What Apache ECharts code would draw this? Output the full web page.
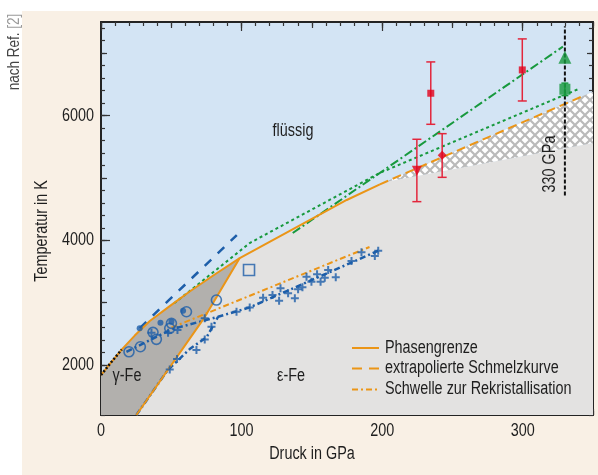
<!DOCTYPE html>
<html><head><meta charset="utf-8">
<script src="https://cdn.jsdelivr.net/npm/echarts@6/dist/echarts.min.js"></script>
<style>
html,body{margin:0;padding:0;background:#fff;}
#panel{position:absolute;left:22px;top:11px;width:576px;height:464px;background:#f9f0e5;}
#chart{position:absolute;left:0;top:0;width:598px;height:475px;}
</style></head><body>
<div id="panel"></div><div id="chart"></div>
<script>
const FONT = "'Liberation Sans', Arial, sans-serif";
const NARROW = 0.8;

// ---- data (pressure GPa, temperature K) ----
const meltGamma = [[0,1840],[6.2,2016],[14.7,2249],[24.0,2473],[34.7,2706],[48.9,2946],[63.1,3179],[80.9,3452],[98.7,3716]];
const meltEps = [[98.7,3716],[174.8,4647],[198.4,4898]];
const meltExtrap = [[198.4,4898],[341.9,6304]];
const gammaEpsBoundary = [[98.7,3716],[73.8,2770],[25.2,1200]];
const hatchUpper = [[202,4937],[341.9,6304],[350,6383]];
const hatchLower = [[350,5561],[202,4937]];
const blackDotted = [[0,1840],[6.2,2016],[14.7,2249]];
const recrystThreshold = [[50.1,2600],[191,3893]];
const blueDashed = [[27.6,2593],[96.6,4085]];
const blueDashDotUpper = [[18.1,2213],[50.1,2573],[83.3,2775],[105.8,2925],[198.4,3845]];
const blueDashDotLower = [[25.2,1200],[47.5,1920],[63.1,2257],[75.2,2449],[83.3,2775]];
const greenDotted = [[52,2990],[70.2,3315],[105.8,3957],[162.6,4647],[198.3,5080],[339.3,6422]];
const greenDashDot = [[136.4,4117],[328.6,7106]];
const line330 = [[330,4720],[330,7430]];
const bluePlus = [[35.9,2518],[47.7,2518],[54.4,2561],[73.8,2749],[54.1,2096],[48.9,1931],[67.9,2241],[73.8,2412],[78.6,2614],[96.4,2855],[105.8,2925],[115.3,3080],[122.0,3123],[126.7,3031],[127.7,3230],[133.1,3150],[137.9,3070],[140.2,3214],[143.3,3246],[146.2,3416],[149.7,3336],[153.7,3455],[156.2,3336],[159.2,3400],[161.6,3524],[167.0,3407],[178.2,3668],[185.3,3808],[194.8,3748],[197.2,3833]];
const blueCircles = [[19.9,2213],[28.0,2294],[39.4,2413],[37.0,2525],[50.1,2669],[48.9,2589],[60.8,2855],[82.1,3043]];
const blueDots = [[27.5,2589],[42.3,2678],[50.1,2695],[58.4,2871]];
const blueSquare = [[105.3,3524]];
const redSquares = [[234.6,6358],[299.7,6732]];
const redTriangle = [[224.7,5117]];
const redDiamond = [[242.7,5363]];
const redErrors = [[234.6,5860,6860],[299.7,6234,7229],[224.7,4620,5620],[242.7,5010,5710]];
const greenTriangle = [[330,6935]];
const greenSquare = [[330,6422]];
const greenErrors = [[330,6320,6520]];
const xLabels = [0,100,200,300];
const yLabels = [2000,4000,6000];
const legendNames = ['Phasengrenze','extrapolierte Schmelzkurve','Schwelle zur Rekristallisation'];

// ---- colours ----
const ORANGE='#eb9517', BLUE='#1d5ea9', GREEN='#17993d', RED='#e2001a', TXT='#1e1e1e';

const solidPoly = [[0,1200]].concat(meltGamma, meltEps.slice(1), [[202,4937],[350,5561],[350,1200]]);
const gammaPoly = [[0,1200]].concat(meltGamma, gammaEpsBoundary.slice(1));
const hatchPoly = hatchUpper.concat(hatchLower);

// hatch pattern
const pc = document.createElement('canvas'); pc.width = 10; pc.height = 10;
const cx = pc.getContext('2d');
cx.fillStyle = '#ffffff'; cx.fillRect(0,0,10,10);
cx.strokeStyle = '#bababa'; cx.lineWidth = 2.2;
cx.beginPath(); cx.moveTo(-2,-2); cx.lineTo(12,12); cx.moveTo(12,-2); cx.lineTo(-2,12); cx.stroke();

function range(a,b,s){const r=[];for(let v=a;v<=b+1e-9;v+=s)r.push(v);return r;}

function polygon(points, style, z){
  return {type:'custom', coordinateSystem:'cartesian2d', clip:true, silent:true, z:z,
    data:[points[0]],
    renderItem:function(params, api){
      return {type:'polygon', shape:{points: points.map(p=>api.coord(p))}, style: style};
    }};
}
function line(name, data, color, width, type, z){
  return {type:'line', name:name, data:data, symbol:'none', showSymbol:false, z:z, silent:true,
    lineStyle:{color:color, width:width, type:type}, itemStyle:{color:color}, animation:false};
}
function scatter(name, data, symbol, size, color, filled, z, rotate){
  return {type:'scatter', name:name, data:data, symbol:symbol, symbolSize:size, z:z, symbolRotate:rotate||0, silent:true,
    itemStyle: filled ? {color:color} : {color:'rgba(0,0,0,0)', borderColor:color, borderWidth:1.6}};
}
function errorBars(data, color, cap, z){
  return {type:'custom', coordinateSystem:'cartesian2d', z:z, silent:true, data:data,
    encode:{x:0, y:[1,2]},
    renderItem:function(params, api){
      const p1 = api.coord([api.value(0), api.value(1)]);
      const p2 = api.coord([api.value(0), api.value(2)]);
      const st = {stroke:color, lineWidth:1.5};
      return {type:'group', children:[
        {type:'line', shape:{x1:p1[0],y1:p1[1],x2:p2[0],y2:p2[1]}, style:st},
        {type:'line', shape:{x1:p1[0]-cap,y1:p1[1],x2:p1[0]+cap,y2:p1[1]}, style:st},
        {type:'line', shape:{x1:p2[0]-cap,y1:p2[1],x2:p2[0]+cap,y2:p2[1]}, style:st}
      ]};
    }};
}

const AX = '#222', TK = '#333';
function xAx(pos, vals, len){
  return {type:'value', min:0, max:350, position:pos,
    axisLine:{show:true, onZero:false, lineStyle:{color:AX, width:1.5}},
    axisTick:{show:true, inside:true, length:len, customValues:vals, lineStyle:{color:TK, width:1.2}},
    axisLabel:{show:false}, splitLine:{show:false}};
}
function yAx(pos, vals, len){
  return {type:'value', min:1200, max:7500, position:pos,
    axisLine:{show:true, onZero:false, lineStyle:{color:AX, width:1.5}},
    axisTick:{show:true, inside:true, length:len, customValues:vals, lineStyle:{color:TK, width:1.2}},
    axisLabel:{show:false}, splitLine:{show:false}};
}
function txt(text, x, y, o){
  o = o || {};
  return {type:'text', x:x, y:y, rotation:o.rot||0, scaleX:o.sx||NARROW, z:100,
    style:{text:text, fill:o.fill||TXT, font:(o.size||18)+'px '+FONT, align:o.align||'center', verticalAlign:'middle', rich:o.rich}};
}

const chart = echarts.init(document.getElementById('chart'), null, {renderer:'canvas'});
chart.setOption({
  animation:false,
  backgroundColor:'transparent',
  grid:{left:101, right:5, top:22, bottom:60, show:true, backgroundColor:'#d3e4f4', borderWidth:0},
  xAxis:[
    xAx('bottom', range(0,350,10), 4),
    xAx('bottom', range(0,350,50), 6),
    xAx('bottom', range(0,300,100), 9),
    xAx('top', range(0,350,10), 4),
    xAx('top', range(0,350,50), 6),
    xAx('top', range(0,300,100), 9)
  ],
  yAxis:[
    yAx('left', range(1200,7400,200), 4),
    yAx('left', range(2000,7000,1000), 6),
    yAx('left', [2000,4000,6000], 9),
    yAx('right', range(1200,7400,200), 4),
    yAx('right', range(2000,7000,1000), 6),
    yAx('right', [2000,4000,6000], 9)
  ],
  series:[
    polygon(solidPoly, {fill:'#e3e2e1'}, 1),
    polygon(gammaPoly, {fill:'#b2b0ad'}, 2),
    polygon(hatchPoly, {fill:{image:pc, repeat:'repeat'}}, 2),
    line('greenDotted', greenDotted, GREEN, 2, [3,3], 4),
    line('greenDashDot', greenDashDot, GREEN, 2, [9,3,2,3], 4),
    line('blueDashed', blueDashed, BLUE, 2.5, [9,9], 4),
    line('blueUpper', blueDashDotUpper, BLUE, 2.5, [6,3,2,3], 4),
    line('blueLower', blueDashDotLower, BLUE, 2.5, [6,3,2,3], 4),
    line(legendNames[2], recrystThreshold, ORANGE, 2, [6,3,2,3], 5),
    line(legendNames[0], meltGamma.concat(meltEps.slice(1)), ORANGE, 2, 'solid', 6),
    line('gammaEps', gammaEpsBoundary, ORANGE, 2, 'solid', 6),
    line(legendNames[1], meltExtrap, ORANGE, 2, [9,5], 6),
    line('blackDotted', blackDotted, '#111', 2.5, [2,2], 7),
    line('line330', line330, '#111', 2, [4,2], 7),
    errorBars(redErrors, '#e3263c', 4.5, 8),
    errorBars(greenErrors, GREEN, 3.5, 8),
    scatter('plus', bluePlus, 'path://M3,0h2v3h3v2h-3v3h-2v-3h-3v-2h3z', 8, BLUE, true, 9),
    scatter('circles', blueCircles, 'circle', 10, BLUE, false, 9),
    scatter('dots', blueDots, 'circle', 6, BLUE, true, 9),
    scatter('bsquare', blueSquare, 'rect', 11, BLUE, false, 9),
    scatter('rsq', redSquares, 'rect', 7, RED, true, 10),
    scatter('rtri', redTriangle, 'triangle', 10, RED, true, 10, 180),
    scatter('rdia', redDiamond, 'diamond', 9, RED, true, 10),
    scatter('gtri', greenTriangle, 'triangle', 13, GREEN, true, 10),
    scatter('gsq', greenSquare, 'rect', 11, GREEN, true, 10)
  ]
});

// tick labels placed through the axis scales
const g = [];
xLabels.forEach(v => { const p = chart.convertToPixel({xAxisIndex:0, yAxisIndex:0}, [v, 1200]); g.push(txt(String(v), p[0], p[1]+16)); });
yLabels.forEach(v => { const p = chart.convertToPixel({xAxisIndex:0, yAxisIndex:0}, [0, v]); g.push(txt(String(v), p[0]-7, p[1], {align:'right'})); });

// annotations and titles
g.push(txt('flüssig', 293, 131));
g.push(txt('γ-Fe', 127, 376));
g.push(txt('ε-Fe', 291, 376));
g.push(txt('330 GPa', 550, 164, {rot:Math.PI/2}));
g.push(txt('Temperatur in K', 42, 231, {rot:Math.PI/2}));
g.push(txt('Druck in GPa', 312, 454));
g.push(txt('{a|nach Ref. }{b|[2]}', 14, 52, {rot:Math.PI/2, size:16.5, sx:0.82,
  rich:{a:{fill:'#444', fontSize:16.5, fontFamily:FONT}, b:{fill:'#9a9a9a', fontSize:16.5, fontFamily:FONT}}}));

// legend
const legDash = ['solid', [10,7], [6,3,2,3]];
const legY = [348, 368.5, 389.5];
legendNames.forEach((n,i) => {
  g.push({type:'line', z:100, shape:{x1:352, y1:legY[i], x2:379, y2:legY[i]},
    style:{stroke:ORANGE, lineWidth:2, lineDash: legDash[i]==='solid' ? null : legDash[i]}});
  g.push(txt(n, 385, legY[i], {align:'left'}));
});
chart.setOption({graphic:g});
</script>
</body></html>
